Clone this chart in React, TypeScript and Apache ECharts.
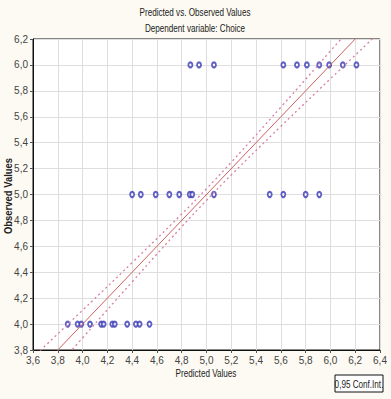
import React, { useEffect, useRef } from "react";
import * as echarts from "echarts";

const titleText = "Predicted vs. Observed Values";
const subtitleText = "Dependent variable: Choice";
const xAxisName = "Predicted Values";
const yAxisName = "Observed Values";
const legendText = "0,95 Conf.Int.";

// predicted values of cases observed at 6, 5 and 4
const observedLevels = [6, 5, 4];
const predictedAt6 = [4.87, 4.94, 5.06, 5.62, 5.73, 5.81, 5.91, 5.99, 6.1, 6.21];
const predictedAt5 = [4.4, 4.47, 4.59, 4.7, 4.78, 4.865, 4.885, 5.06, 5.51, 5.62, 5.8, 5.91];
const predictedAt4 = [3.88, 3.96, 3.99, 4.06, 4.15, 4.17, 4.24, 4.26, 4.36, 4.43, 4.46, 4.54];

// fitted line and 95% confidence band
const fitX = [3.6, 6.4];
const fitY = [3.6, 6.4];
const bandX = [3.6, 4.0, 4.4, 4.8, 5.0, 5.2, 5.6, 6.0, 6.4];
const bandUpper = [3.743, 4.107, 4.474, 4.849, 5.045, 5.249, 5.674, 6.107, 6.543];
const bandLower = [3.457, 3.893, 4.326, 4.751, 4.955, 5.151, 5.526, 5.893, 6.257];

const FONT = "'Liberation Sans', Arial, sans-serif";
const SQUEEZE = 0.74;

export default function App() {
  const ref = useRef<HTMLDivElement>(null);
  useEffect(() => {
    if (!ref.current) return;
    const chart = echarts.init(ref.current, null, { renderer: "svg" });
    const predictedRows = [predictedAt6, predictedAt5, predictedAt4];
    const pts: number[][] = [];
    predictedRows.forEach((row, i) => row.forEach((p) => pts.push([p, observedLevels[i]])));
    const fmt = (v: number) => v.toFixed(1).replace(".", ",");
    const label = (text: string, x: number, y: number, extra: any = {}, weight = "normal") => ({
      type: "text",
      x,
      y,
      scaleX: SQUEEZE,
      ...extra,
      style: {
        text,
        font: `${weight} 11px ${FONT}`,
        fill: "#222",
        align: "center",
        verticalAlign: "middle",
      },
    });
    chart.setOption({
      animation: false,
      backgroundColor: "#fcfaf2",
      textStyle: { fontFamily: FONT },
      grid: {
        left: 33,
        right: 11,
        top: 39,
        bottom: 49,
        show: true,
        backgroundColor: "#ffffff",
        borderColor: "#111",
        borderWidth: 1,
      },
      xAxis: {
        type: "value",
        min: 3.6,
        max: 6.4,
        interval: 0.2,
        axisLine: { show: true, lineStyle: { color: "#111" } },
        axisTick: { show: true, length: 3, lineStyle: { color: "#555" } },
        axisLabel: { formatter: fmt, fontFamily: FONT, fontSize: 10, color: "#444", margin: 5 },
        splitLine: { show: true, lineStyle: { color: "#dedede", width: 1 } },
      },
      yAxis: {
        type: "value",
        min: 3.8,
        max: 6.2,
        interval: 0.2,
        axisLine: { show: true, lineStyle: { color: "#111" } },
        axisTick: { show: true, length: 3, lineStyle: { color: "#555" } },
        axisLabel: { formatter: fmt, fontFamily: FONT, fontSize: 10, color: "#444", margin: 5 },
        splitLine: { show: true, lineStyle: { color: "#dedede", width: 1 } },
      },
      series: [
        {
          type: "line",
          data: bandX.map((x, i) => [x, bandUpper[i]]),
          smooth: true,
          showSymbol: false,
          clip: true,
          lineStyle: { color: "#d680a0", width: 1.3, type: [2, 3] },
        },
        {
          type: "line",
          data: bandX.map((x, i) => [x, bandLower[i]]),
          smooth: true,
          showSymbol: false,
          clip: true,
          lineStyle: { color: "#d680a0", width: 1.3, type: [2, 3] },
        },
        {
          type: "line",
          data: fitX.map((x, i) => [x, fitY[i]]),
          showSymbol: false,
          clip: true,
          lineStyle: { color: "#cc6060", width: 1 },
        },
        {
          type: "scatter",
          data: pts,
          symbol: "emptyCircle",
          symbolSize: [4, 5],
          itemStyle: { color: "#3a3ab4", borderWidth: 0.8 },
        },
      ],
      graphic: [
        label(titleText, 195, 12),
        label(subtitleText, 195, 28),
        label(xAxisName, 206, 373),
        label(yAxisName, 8, 196, { rotation: Math.PI / 2, scaleX: 0.86 }, "bold"),
        {
          type: "rect",
          shape: { x: 335, y: 375, width: 48, height: 17 },
          style: { fill: "#fff", stroke: "#111", lineWidth: 1 },
        },
        label(legendText, 359, 384),
      ],
    });
    return () => chart.dispose();
  }, []);
  return (
    <div
      ref={ref}
      style={{ position: "fixed", left: 0, top: 0, width: 391, height: 399 }}
    />
  );
}
